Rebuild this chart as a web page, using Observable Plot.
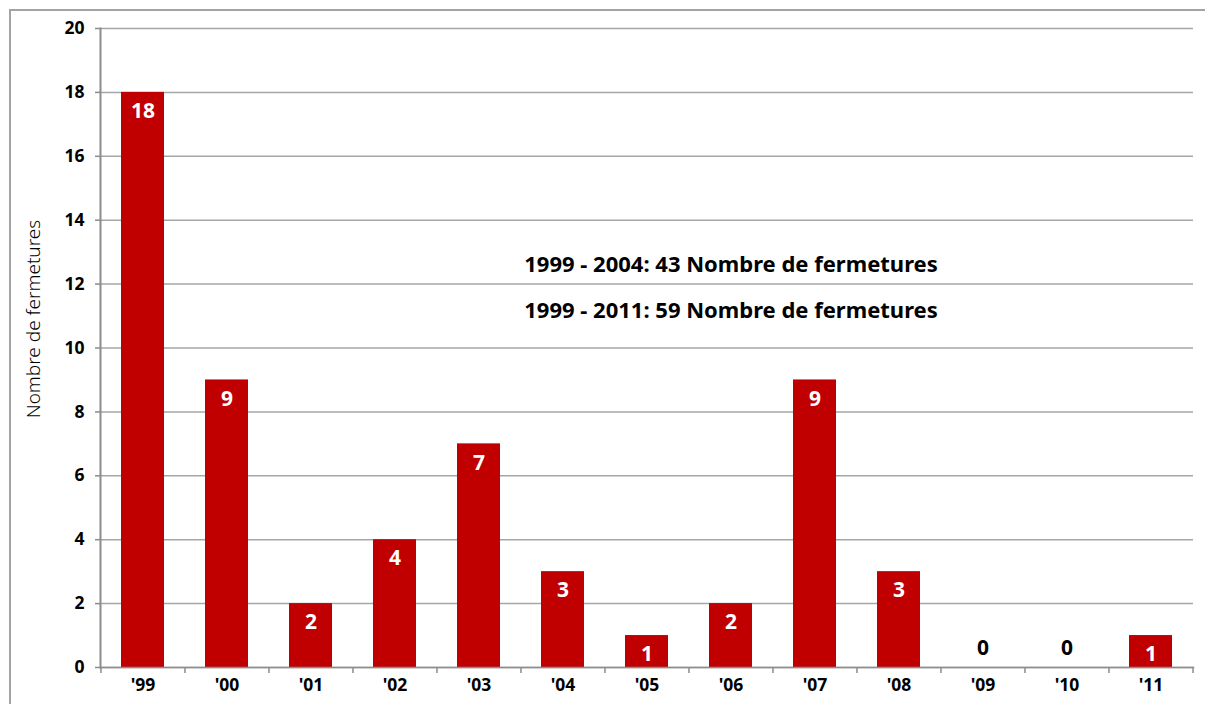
<!DOCTYPE html>
<html>
<head>
<meta charset="utf-8">
<script src="https://cdn.jsdelivr.net/npm/d3@7"></script>
<script src="https://cdn.jsdelivr.net/npm/@observablehq/plot@0.6"></script>
<style>
  html, body { margin: 0; padding: 0; background: #fff; overflow: hidden; }
  #wrap { position: relative; width: 1205px; height: 704px; }
  #chart { position: absolute; left: 0; top: 0; }
  #border { position: absolute; left: 9px; top: 9px; width: 1400px; height: 1000px;
            border-left: 2px solid #a3a3a3; border-top: 2px solid #a3a3a3; pointer-events: none; }
</style>
</head>
<body>
<div id="wrap"><div id="chart"></div><div id="border"></div></div>
<script>
const years = ["'99","'00","'01","'02","'03","'04","'05","'06","'07","'08","'09","'10","'11"];
const closures = [18, 9, 2, 4, 7, 3, 1, 2, 9, 3, 0, 0, 1];
const yTicks = [0, 2, 4, 6, 8, 10, 12, 14, 16, 18, 20];
const notes = ["1999 - 2004: 43 Nombre de fermetures", "1999 - 2011: 59 Nombre de fermetures"];
const noteX = ["'06", "'06"];
const noteY = [12.6, 11.15];
const yTitle = "Nombre de fermetures";

const data = years.map((y, i) => ({year: y, value: closures[i]}));
const noteData = notes.map((t, i) => ({text: t, x: noteX[i], y: noteY[i]}));

const W = 1205, H = 704, mL = 100, mR = 12, mT = 28, mB = 37;
const half = (W - mL - mR) / years.length / 2;
const font = "Noto Sans, Open Sans, sans-serif";

const chart = Plot.plot({
  width: W, height: H,
  marginLeft: mL, marginRight: mR, marginTop: mT, marginBottom: mB,
  style: {fontFamily: font, background: "transparent"},
  x: {type: "band", domain: years, paddingInner: 0.49, paddingOuter: 0.245, label: null},
  y: {domain: [0, 20], ticks: yTicks, label: null},
  marks: [
    Plot.gridY(yTicks, {stroke: "#a6a6a6", strokeOpacity: 1, strokeWidth: 1.5}),
    Plot.barY(data, {x: "year", y: "value", fill: "#c00000"}),
    Plot.frame({anchor: "left", stroke: "#8c8c8c", strokeWidth: 2}),
    Plot.frame({anchor: "bottom", stroke: "#8c8c8c", strokeWidth: 1.5}),
    Plot.axisY(yTicks, {tickSize: 5, tickPadding: 11, stroke: "#8c8c8c", strokeWidth: 1.5,
      fontSize: 17.5, fontWeight: "bold", fill: "#000", label: null}),
    Plot.axisX({tickSize: 0, tickPadding: 11, fontSize: 17.5, fontWeight: "bold", fill: "#000", label: null}),
    Plot.axisX({tickSize: 6, text: null, dx: -half, stroke: "#8c8c8c", strokeWidth: 1.5, label: null}),
    Plot.axisX(years.slice(-1), {tickSize: 6, text: null, dx: half, stroke: "#8c8c8c", strokeWidth: 1.5, label: null}),
    Plot.text(data.filter(d => d.value > 0), {x: "year", y: "value", text: d => String(d.value),
      dy: 19, fill: "#fff", fontSize: 21, fontWeight: "bold"}),
    Plot.text(data.filter(d => d.value === 0), {x: "year", y: "value", text: d => String(d.value),
      dy: -19, fill: "#000", fontSize: 21, fontWeight: "bold"}),
    Plot.text(noteData, {x: "x", y: "y", text: "text", fill: "#000", fontSize: 22, fontWeight: "bold"}),
    Plot.text([yTitle], {frameAnchor: "left", textAnchor: "middle", text: d => d, rotate: -90, dx: -67, dy: -29,
      fontSize: 19, fontWeight: 300, fill: "#000"})
  ]
});
document.getElementById("chart").appendChild(chart);
</script>
</body>
</html>
